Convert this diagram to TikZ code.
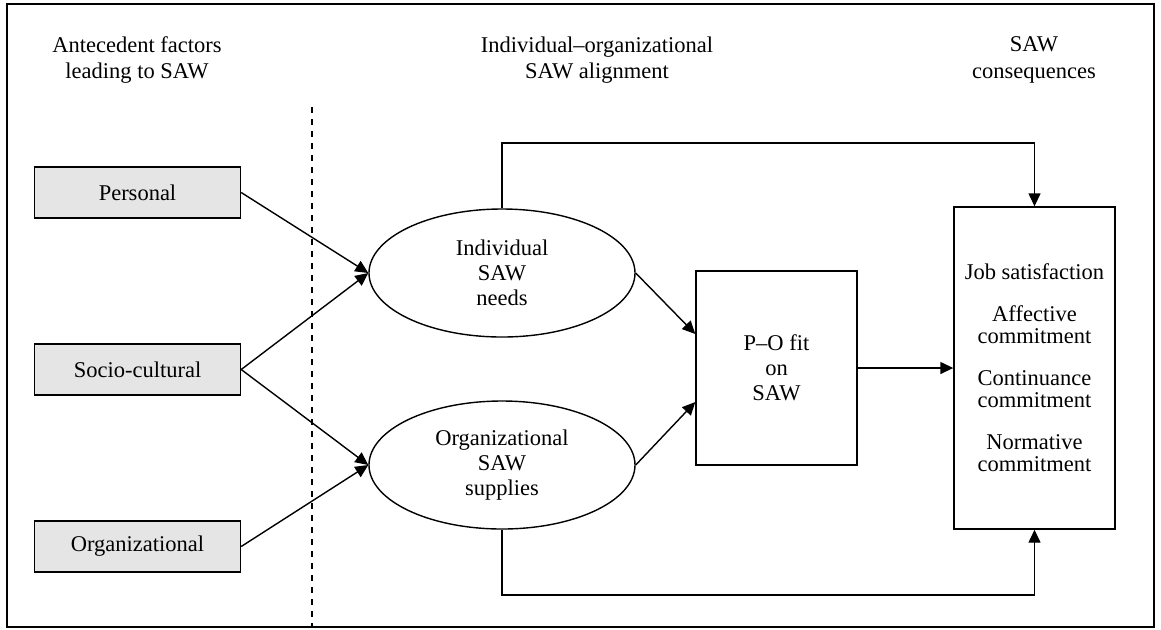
\documentclass[tikz,border=0pt]{standalone}
\usepackage{fontspec}
\setmainfont{Liberation Serif}
\usetikzlibrary{arrows.meta,shapes.geometric}
\begin{document}
\begin{tikzpicture}[x=0.5pt, y=-0.5pt, line width=0.7pt,
    every node/.style={font=\fontsize{11.25}{12.5}\selectfont, align=center},
    factor/.style={draw, fill=gray!20, minimum width=103pt, minimum height=25.5pt},
    oval/.style={draw, ellipse, inner sep=0pt, minimum width=133pt, minimum height=64pt},
    arr/.style={-{Triangle[length=6.5pt, width=6pt]}}]
  % Frame and margins
  \useasboundingbox (0,0) rectangle (1161,629);
  \draw[line width=0.9pt] (7,4) rectangle (1154,627);
  % Column headings
  \node[font=\fontsize{11.25}{13.3}\selectfont] (hant) at (137,60) {Antecedent factors\\leading to SAW};
  \node[font=\fontsize{11.25}{13.3}\selectfont] (hali) at (597,60) {Individual--organizational\\SAW alignment};
  \node[font=\fontsize{11.25}{13.3}\selectfont] (hcon) at (1034,60) {SAW\\consequences};
  % Divider between antecedents and alignment
  \draw[dashed, line width=0.6pt] (312,107) -- (312,627);
  % Antecedent factors
  \node[factor] (pers) at (137.5,192.5) {Personal};
  \node[factor] (socio) at (137.5,369.5) {Socio-cultural};
  \node[factor] (orgf) at (137.5,546.5) {Organizational};
  % Needs and supplies
  \node[oval] (needs) at (502,273) {Individual\\SAW\\needs};
  \node[oval] (supp) at (502,465) {Organizational\\SAW\\supplies};
  % Fit and outcomes
  \node[draw, minimum width=80.5pt, minimum height=97pt] (fit) at (776.5,368) {P--O fit\\on\\SAW};
  \node[draw, minimum width=80.5pt, minimum height=161pt,
        font=\fontsize{11.25}{11}\selectfont] (cons) at (1034.5,368)
    {Job satisfaction\\[10pt]Affective\\commitment\\[10pt]Continuance\\commitment\\[10pt]Normative\\commitment};
  \coordinate (toprun) at (0,143);
  \coordinate (botrun) at (0,595);
  % Connectors
  \draw[arr] (pers.east) -- (needs.west);
  \draw[arr] (socio.east) -- (needs.west);
  \draw[arr] (socio.east) -- (supp.west);
  \draw[arr] (orgf.east) -- (supp.west);
  \draw[arr] (needs.east) -- ([yshift=17pt]fit.west);
  \draw[arr] (supp.east) -- ([yshift=-17pt]fit.west);
  \draw[arr] (fit.east) -- (cons.west);
  \draw[arr] (needs.north) -- (needs.north |- toprun) -| (cons.north);
  \draw[arr] (supp.south) -- (supp.south |- botrun) -| (cons.south);
\end{tikzpicture}
\end{document}
